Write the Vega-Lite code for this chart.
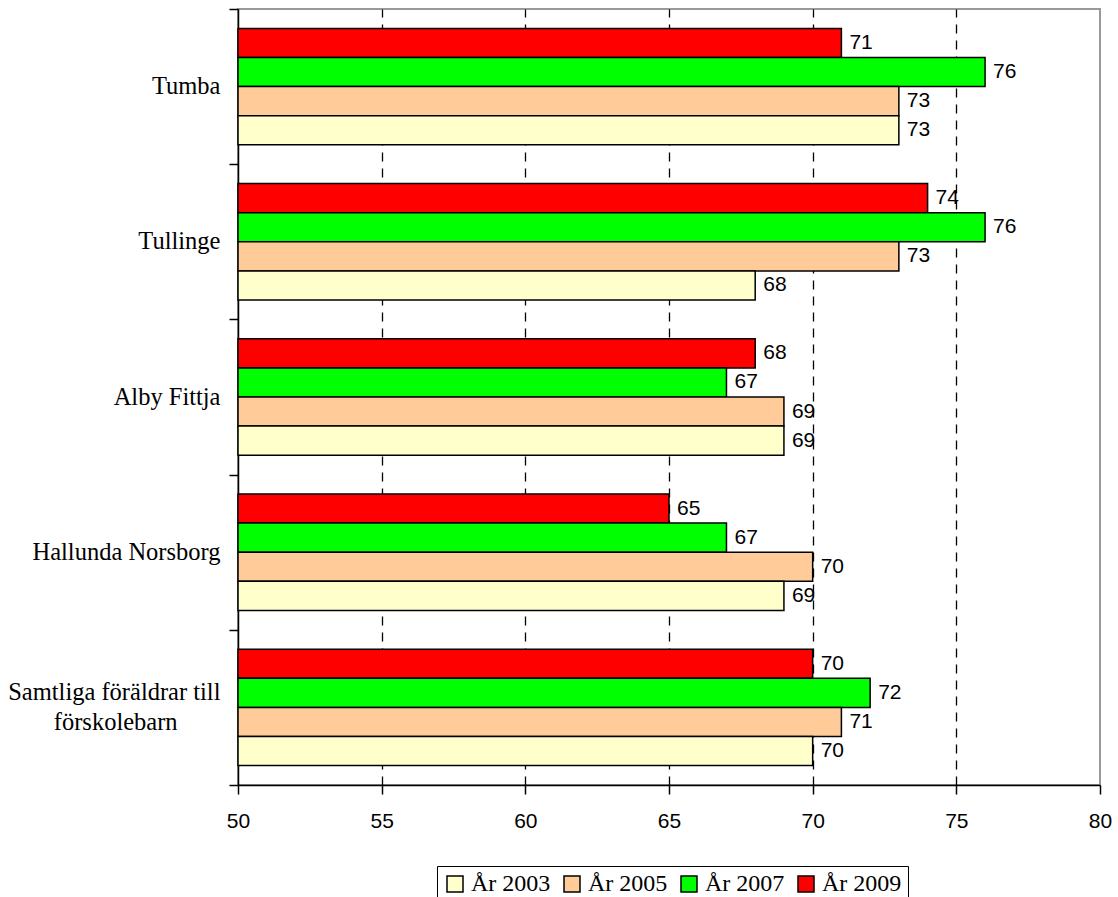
{
  "$schema": "https://vega.github.io/schema/vega-lite/v6.json",
  "autosize": {"type": "none"},
  "padding": {"left": 238, "top": 9, "right": 18, "bottom": 112},
  "width": 862,
  "height": 776,
  "background": "white",
  "config": {
    "view": {"stroke": "#999999", "strokeWidth": 2},
    "axis": {"domainColor": "black", "tickColor": "black", "domainWidth": 1.5, "tickWidth": 1.5}
  },
  "data": {
    "values": [
      {"omrade": "Tumba", "ar": "År 2009", "v": 71},
      {"omrade": "Tumba", "ar": "År 2007", "v": 76},
      {"omrade": "Tumba", "ar": "År 2005", "v": 73},
      {"omrade": "Tumba", "ar": "År 2003", "v": 73},
      {"omrade": "Tullinge", "ar": "År 2009", "v": 74},
      {"omrade": "Tullinge", "ar": "År 2007", "v": 76},
      {"omrade": "Tullinge", "ar": "År 2005", "v": 73},
      {"omrade": "Tullinge", "ar": "År 2003", "v": 68},
      {"omrade": "Alby Fittja", "ar": "År 2009", "v": 68},
      {"omrade": "Alby Fittja", "ar": "År 2007", "v": 67},
      {"omrade": "Alby Fittja", "ar": "År 2005", "v": 69},
      {"omrade": "Alby Fittja", "ar": "År 2003", "v": 69},
      {"omrade": "Hallunda Norsborg", "ar": "År 2009", "v": 65},
      {"omrade": "Hallunda Norsborg", "ar": "År 2007", "v": 67},
      {"omrade": "Hallunda Norsborg", "ar": "År 2005", "v": 70},
      {"omrade": "Hallunda Norsborg", "ar": "År 2003", "v": 69},
      {"omrade": "Samtliga föräldrar till förskolebarn", "ar": "År 2009", "v": 70},
      {"omrade": "Samtliga föräldrar till förskolebarn", "ar": "År 2007", "v": 72},
      {"omrade": "Samtliga föräldrar till förskolebarn", "ar": "År 2005", "v": 71},
      {"omrade": "Samtliga föräldrar till förskolebarn", "ar": "År 2003", "v": 70}
    ]
  },
  "encoding": {
    "y": {
      "field": "omrade",
      "type": "nominal",
      "sort": null,
      "scale": {"paddingInner": 0, "paddingOuter": 0},
      "axis": {
        "title": null,
        "tickBand": "extent",
        "tickSize": 9,
        "labelPadding": 9,
        "labelFont": "Liberation Serif",
        "labelFontSize": 24.5,
        "labelColor": "black",
        "labelLineHeight": 30,
        "labelLimit": 300,
        "labelOffset": {"condition": {"test": "datum.value == 'Samtliga föräldrar till förskolebarn'", "value": -15}, "value": 0},
        "labelExpr": "datum.value == 'Samtliga föräldrar till förskolebarn' ? ['Samtliga föräldrar till', 'förskolebarn\u00a0\u00a0\u00a0\u00a0\u00a0\u00a0\u00a0\u200b'] : datum.value"
      }
    },
    "yOffset": {
      "field": "ar",
      "type": "nominal",
      "sort": "descending",
      "scale": {"paddingInner": 0, "paddingOuter": 0.667}
    },
    "x": {
      "field": "v",
      "type": "quantitative",
      "scale": {"domain": [50, 80], "zero": false, "nice": false},
      "axis": {
        "title": null,
        "values": [50, 55, 60, 65, 70, 75, 80],
        "tickSize": 9,
        "labelPadding": 16,
        "labelFlush": false,
        "labelFont": "Liberation Sans",
        "labelFontSize": 21,
        "labelColor": "black",
        "grid": true,
        "gridColor": "black",
        "gridWidth": 1.3,
        "gridDash": [9, 7],
        "gridOpacity": {"condition": {"test": "datum.value == 50 || datum.value == 80", "value": 0}, "value": 1}
      }
    }
  },
  "layer": [
    {
      "mark": {"type": "bar", "stroke": "black", "strokeWidth": 1.5},
      "encoding": {
        "x2": {"datum": 50},
        "color": {
          "field": "ar",
          "type": "nominal",
          "sort": "ascending",
          "scale": {
            "domain": ["År 2003", "År 2005", "År 2007", "År 2009"],
            "range": ["#FFFFCC", "#FFCC99", "#00FF00", "#FF0000"]
          },
          "legend": {
            "title": null,
            "orient": "none",
            "direction": "horizontal",
            "columns": 4,
            "legendX": 199,
            "legendY": 857,
            "padding": 6,
            "strokeColor": "black",
            "fillColor": "white",
            "symbolType": "square",
            "symbolSize": 256,
            "symbolStrokeColor": "black",
            "symbolStrokeWidth": 1.5,
            "symbolOpacity": 1,
            "labelFont": "Liberation Serif",
            "labelFontSize": 24,
            "labelColor": "black",
            "columnPadding": 9,
            "labelOffset": 4
          }
        }
      }
    },
    {
      "mark": {"type": "text", "align": "left", "baseline": "middle", "dx": 8, "font": "Liberation Sans", "fontSize": 21, "color": "black"},
      "encoding": {
        "text": {"field": "v", "type": "quantitative"}
      }
    }
  ]
}
